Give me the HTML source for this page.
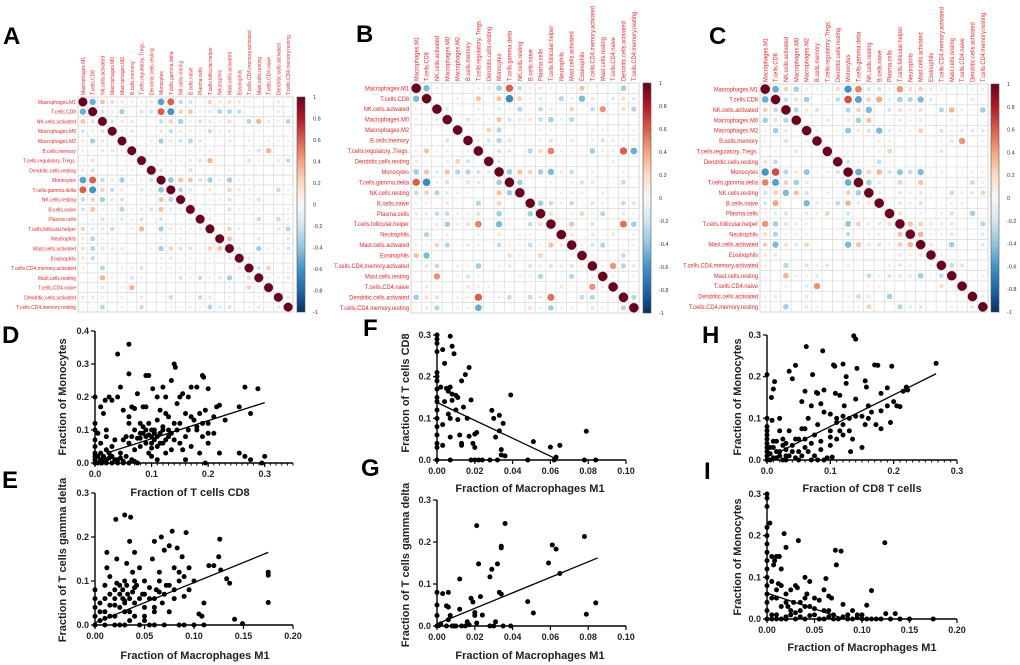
<!DOCTYPE html>
<html><head><meta charset="utf-8">
<style>
html,body{margin:0;padding:0;background:#fff;}
svg{display:block;font-family:"Liberation Sans",Arial,sans-serif;}
</style></head>
<body>
<svg id="fig" width="1020" height="665" viewBox="0 0 1020 665">
<defs>
<linearGradient id="rdbu" x1="0" y1="1" x2="0" y2="0">
<stop offset="0" stop-color="#053061"/><stop offset="0.1" stop-color="#2166AC"/><stop offset="0.2" stop-color="#4393C3"/><stop offset="0.3" stop-color="#92C5DE"/><stop offset="0.4" stop-color="#D1E5F0"/><stop offset="0.5" stop-color="#F7F7F7"/><stop offset="0.6" stop-color="#FDDBC7"/><stop offset="0.7" stop-color="#F4A582"/><stop offset="0.8" stop-color="#D6604D"/><stop offset="0.9" stop-color="#B2182B"/><stop offset="1" stop-color="#67001F"/>
</linearGradient>
</defs>
</svg>
<script>
// ---------- correlation data ----------
const cellTypes=["Macrophages.M1","T.cells.CD8","NK.cells.activated","Macrophages.M0","Macrophages.M2","B.cells.memory","T.cells.regulatory..Tregs.","Dendritic.cells.resting","Monocytes","T.cells.gamma.delta","NK.cells.resting","B.cells.naive","Plasma.cells","T.cells.follicular.helper","Neutrophils","Mast.cells.activated","Eosinophils","T.cells.CD4.memory.activated","Mast.cells.resting","T.cells.CD4.naive","Dendritic.cells.activated","T.cells.CD4.memory.resting"];
const colorbarTicks=[1,0.8,0.6,0.4,0.2,0,-0.2,-0.4,-0.6,-0.8,-1];
const corrA=[[],[-0.5],[0.3,-0.2],[-0.2,-0.1,-0.2],[0.15,-0.35,0.15,-0.1],[-0.1,0.05,-0.15,-0.15,-0.1],[-0.1,0.2,-0.05,-0.05,-0.05,0.1],[0.15,-0.2,0,-0.05,0.1,-0.1,0],[-0.55,0.6,-0.25,0.15,-0.35,-0.1,-0.1,-0.2],[0.6,-0.6,0.25,-0.25,0.15,0,-0.15,0.1,-0.4],[-0.25,0.25,-0.35,0.15,-0.2,-0.05,0.1,-0.05,0.3,-0.3],[-0.2,0.3,-0.1,-0.1,-0.3,-0.1,-0.15,-0.2,0.3,-0.15,0.1],[0.05,-0.1,-0.2,-0.1,-0.15,-0.1,0.2,0,-0.2,0,0,-0.1],[0.25,-0.15,0.15,-0.25,-0.05,0.1,0.35,0,-0.35,0.15,0.1,-0.1,0.15],[0.15,-0.3,0.1,-0.1,0,0.05,-0.05,0,-0.1,0,-0.1,-0.05,-0.05,0],[0.2,-0.3,0.2,-0.15,0.15,-0.05,0,0.1,-0.35,0.25,-0.2,-0.2,-0.1,0.25,0.3],[0.15,-0.25,0,-0.05,0,0,-0.05,0,-0.1,0.15,-0.05,0.1,-0.05,0.1,-0.05,0.15],[0.1,-0.05,-0.3,0,-0.1,0.1,-0.2,0,-0.1,0.1,-0.1,0.1,-0.05,0.05,0,-0.05,0.15],[0,-0.05,0.35,-0.1,-0.05,-0.2,-0.1,0,0.05,-0.05,-0.2,-0.1,-0.25,-0.1,-0.15,-0.35,0.05,-0.2],[-0.05,-0.05,-0.15,0,-0.1,0.35,-0.05,0,-0.05,0,-0.05,0,-0.05,0,-0.05,-0.1,0,0.25,-0.1],[-0.15,0.15,0.1,-0.05,-0.1,0,0.15,0,0,-0.25,0,-0.05,-0.25,0.15,0,-0.1,0,0.05,-0.1,-0.05],[-0.05,-0.05,-0.3,0,-0.1,-0.05,-0.25,0,0.05,-0.1,-0.05,-0.1,-0.1,-0.3,-0.15,-0.2,-0.05,0.1,-0.15,-0.05,-0.15]];
const corrB=[[],[-0.45],[0.1,-0.05],[-0.1,-0.05,-0.15],[0,-0.1,0,-0.05],[0.05,-0.05,0,-0.2,-0.05],[-0.1,0.3,0.1,-0.1,-0.05,0.1],[0.15,-0.05,0,0.1,0.25,-0.2,0],[-0.35,0.3,-0.15,0.3,-0.3,-0.3,-0.2,-0.15],[0.6,-0.65,0.1,-0.2,0,0.2,-0.15,0,-0.35],[-0.25,0.25,-0.3,0.15,-0.1,-0.05,0,0,0.3,-0.35],[-0.1,0.1,-0.05,0.15,-0.05,-0.05,-0.3,-0.05,0.25,0,0],[0.15,-0.15,-0.25,-0.25,-0.1,-0.1,0.2,0,-0.35,0,-0.05,-0.35],[0.1,-0.05,0.15,-0.35,-0.1,0.2,0.5,0,-0.45,0.1,0.05,-0.25,0.2],[0.05,-0.3,-0.05,-0.1,0,-0.05,-0.1,0,0.15,0,-0.1,-0.1,-0.05,0],[0.1,-0.1,0.25,-0.3,-0.05,0.15,-0.1,0,-0.25,0.1,-0.1,-0.25,-0.1,0.3,0.15],[0.3,-0.45,-0.05,-0.05,0,0,-0.05,0,-0.05,0.2,-0.1,-0.05,0.25,0,0,-0.1],[0.05,-0.15,-0.25,0,-0.1,0.1,-0.35,0,0.1,0.15,0,0.2,-0.1,-0.2,0.15,-0.2,0.1],[0,-0.05,0.45,0,0.1,-0.2,-0.1,-0.05,0,0,-0.1,-0.1,-0.3,0,-0.05,-0.3,0.05,-0.1],[-0.05,-0.15,-0.05,-0.05,-0.05,0.15,-0.1,-0.1,-0.05,-0.05,-0.05,-0.05,0,0.05,0.15,-0.05,-0.05,0.45,-0.1],[-0.35,0.2,0.2,-0.05,-0.1,0.1,0.6,-0.05,-0.1,-0.25,-0.05,-0.25,-0.15,0.55,0,-0.05,-0.25,-0.3,0,-0.05],[-0.05,-0.15,-0.3,0.05,-0.1,-0.1,-0.5,-0.05,0,0,-0.05,0.2,-0.1,-0.35,-0.1,-0.1,-0.05,0.15,-0.1,-0.05,-0.3]];
const corrC=[[],[-0.5],[0.25,-0.25],[-0.35,0.2,-0.3],[0.1,-0.35,0.15,-0.05],[-0.1,0.05,-0.2,-0.05,-0.1],[0.05,-0.1,-0.05,0.15,-0.05,-0.05],[0.2,-0.25,0,-0.05,-0.05,-0.05,0.05],[-0.6,0.65,-0.3,0.15,-0.4,-0.05,-0.1,-0.2],[0.5,-0.55,0.25,-0.35,0.15,-0.05,-0.05,0.1,-0.5],[-0.2,0.25,-0.45,0.3,-0.2,0,0.1,-0.05,0.25,-0.35],[-0.2,0.4,0,0,-0.45,0.15,-0.1,-0.25,0.35,-0.15,0.15],[0.1,-0.15,-0.2,-0.05,-0.15,-0.1,0.25,-0.05,-0.2,0,0,-0.05],[0.45,-0.35,0.2,-0.15,-0.1,0,0,-0.05,-0.4,0.25,-0.15,-0.15,0.2],[0.2,-0.3,0.1,-0.1,0.1,-0.05,0,0,-0.25,-0.05,-0.1,-0.1,-0.05,0.3],[0.25,-0.45,0.2,-0.15,0.25,-0.05,0,0.05,-0.45,0.3,-0.15,-0.2,-0.1,0.25,0.35],[0.15,-0.15,0,0,0,0,0,0,-0.05,0,-0.05,0,0,0.15,0.1,0.15],[0.1,0,-0.3,0,-0.2,0.1,-0.15,0,-0.1,0.05,-0.05,0.05,-0.1,0.15,-0.1,-0.05,0.1],[-0.05,0,0.35,-0.1,-0.1,-0.15,0,0,0,-0.05,-0.25,-0.1,-0.2,-0.15,-0.15,-0.35,-0.05,-0.25],[-0.05,0,-0.1,0,-0.15,0.45,0,0,-0.05,0,0.1,0.1,0,0,0,-0.05,0,0.2,-0.05],[-0.1,0.15,0.05,0,-0.15,0,-0.05,-0.05,0.1,-0.25,0.15,0,-0.35,0.05,0,-0.05,0,0,0.05,0],[-0.1,-0.05,-0.35,0,-0.15,0.1,0.05,0,0.1,-0.1,0.25,0,0,-0.3,-0.15,-0.15,0,-0.05,-0.1,-0.05,-0.15]];

// ---------- scatter data ----------
const dX=[0,0,0,0,0,0,0,0,0,0.005,0.005,0.01,0.01,0.012,0.015,0.02,0.02,0.025,0.03,0.03,0.035,0.04,0.045,0.05,0.055,0.06,0.065,0.07,0.075,0.01,0.005,0.02,0.015,0.01,0.018,0.02,0.03,0.035,0.04,0.04,0.045,0.05,0.055,0.06,0.06,0.06,0.065,0.07,0.07,0.075,0.08,0.08,0.085,0.085,0.09,0.09,0.09,0.095,0.095,0.1,0.1,0.1,0.102,0.105,0.105,0.11,0.11,0.11,0.115,0.115,0.12,0.12,0.12,0.125,0.125,0.13,0.13,0.135,0.135,0.14,0.142,0.14,0.145,0.145,0.15,0.15,0.155,0.16,0.16,0.165,0.17,0.17,0.175,0.18,0.18,0.185,0.185,0.19,0.192,0.19,0.195,0.195,0.2,0.2,0.2,0.21,0.21,0.215,0.22,0.22,0.23,0.255,0.255,0.265,0.265,0.275,0.275,0.288,0.295,0.3,0.05,0.025,0.08,0.095,0.125,0.165,0.09,0.11,0.135,0.155,0.06,0.08,0.085,0.09,0.095,0.1,0.1,0.105,0.11,0.115,0.12,0.125,0.13,0.14,0.15,0.16,0.17,0.18,0.19,0.2,0.06,0.065,0.07,0.075,0.04,0.05,0.02,0.03,0.045,0.015,0.025];
const dY=[0,0.01,0.02,0.03,0.05,0.07,0.1,0.12,0.2,0,0.02,0.01,0.03,0,0.02,0.01,0,0.015,0,0.02,0.01,0,0.015,0.005,0.02,0,0.01,0.005,0,0.06,0.09,0.08,0.15,0.17,0.19,0.1,0.19,0.07,0.2,0.33,0.23,0.07,0.08,0.36,0.27,0.14,0.17,0.1,0.165,0.21,0.05,0.09,0.11,0.17,0.265,0.06,0.1,0.12,0.265,0.02,0.08,0.045,0.225,0.1,0.07,0.2,0.05,0.13,0.09,0.16,0.23,0.06,0.11,0.03,0.2,0.08,0.14,0.25,0.04,0.3,0.29,0.12,0.1,0.18,0.2,0.06,0.21,0.15,0.01,0.1,0.23,0.05,0.13,0.23,0.11,0.03,0.15,0.265,0.26,0.08,0.16,0,0.225,0.06,0.12,0.14,0.09,0.17,0.175,0.03,0.13,0.17,0.03,0.02,0.23,0.15,0.01,0.225,0,0.02,0.16,0.2,0.12,0.03,0.15,0.2,0.17,0.01,0.09,0.04,0.12,0.075,0.09,0.08,0.085,0.1,0.06,0.09,0.08,0.06,0.1,0.07,0.1,0.07,0.12,0.08,0.14,0.1,0.12,0.09,0.06,0.08,0.04,0.075,0.01,0,0.04,0.05,0.03,0.005,0.03];
const dLineX=[0.02,0.3], dLineY=[0.03,0.183];
const eX=[0,0,0,0,0,0.005,0.005,0.01,0.01,0.012,0.012,0.015,0.015,0.02,0.02,0.021,0.022,0.025,0.025,0.028,0.03,0.03,0.03,0.032,0.033,0.035,0.035,0.036,0.038,0.04,0.04,0.042,0.045,0.045,0.048,0.05,0.05,0.055,0.058,0.06,0.06,0.062,0.065,0.067,0.068,0.07,0.072,0.075,0.075,0.078,0.08,0.08,0.083,0.085,0.085,0.088,0.09,0.092,0.095,0.1,0.105,0.108,0.11,0.11,0.115,0.12,0.125,0.126,0.127,0.133,0.136,0.141,0.149,0.175,0.175,0.175,0.01,0.02,0.03,0.04,0.05,0.06,0.015,0.025,0.035,0.07,0.09,0.1,0.055,0.01,0.015,0.02,0.022,0.025,0.028,0.03,0.032,0.035,0.038,0.04,0.045,0.05,0.055,0.06,0.065,0.07,0.075,0.08,0.09,0.005,0.01,0.02,0.03,0.04,0.05,0.06,0.065,0.085,0.095];
const eY=[0,0.02,0.04,0.06,0.08,0.01,0.05,0,0.03,0.165,0.13,0.07,0.11,0.08,0,0.24,0.15,0.09,0.04,0.06,0.25,0,0.1,0.14,0.07,0.19,0.03,0.245,0.12,0.165,0.05,0.09,0,0.13,0.07,0.04,0.1,0.06,0.15,0.19,0,0.08,0.12,0.2,0.05,0.17,0.09,0.18,0.03,0.213,0.13,0.06,0.175,0,0.1,0.155,0.065,0.21,0.13,0.1,0.025,0.02,0,0.05,0.135,0.135,0.155,0.195,0.125,0.105,0.095,0.013,0.003,0.12,0.113,0.051,0.09,0.045,0.055,0.085,0.02,0.04,0.02,0,0.01,0,0,0,0,0.06,0.045,0.06,0.095,0.07,0.08,0.05,0.09,0.06,0.075,0.1,0.06,0.07,0.085,0.06,0.075,0.07,0.09,0.08,0.11,0.03,0.015,0.02,0.03,0.02,0.01,0.03,0.1,0.12,0.08];
const eLineX=[0,0.175], eLineY=[0.005,0.165];
const fX=[0,0,0,0,0,0,0,0,0,0,0,0,0,0,0,0,0,0.002,0.003,0.003,0.003,0.004,0.004,0.005,0.006,0.006,0.007,0.007,0.007,0.007,0.007,0.008,0.008,0.008,0.009,0.01,0.01,0.011,0.011,0.012,0.013,0.013,0.013,0.014,0.015,0.016,0.017,0.017,0.018,0.018,0.019,0.02,0.02,0.021,0.02,0.022,0.024,0.028,0.029,0.03,0.031,0.032,0.033,0.033,0.034,0.034,0.035,0.036,0.039,0.048,0.051,0.06,0.063,0.065,0.062,0.078,0.079,0.084];
const fY=[0.03,0.04,0.06,0.08,0.1,0.12,0.14,0.15,0.17,0.19,0.2,0.21,0.26,0.28,0.29,0.3,0,0.175,0.085,0.035,0.265,0.232,0.14,0.172,0.11,0.165,0.1,0.055,0.175,0.297,0,0.273,0.158,0.143,0.255,0.155,0.12,0.097,0.15,0.06,0.035,0.04,0.19,0.127,0.205,0.1,0.222,0.057,0,0.144,0.04,0.03,0.062,0.066,0,0,0,0,0.119,0.1,0.055,0,0.107,0.07,0.025,0.012,0.088,0.01,0.156,0,0.044,0.031,0.007,0.035,0,0,0.069,0];
const fLineX=[0,0.062], fLineY=[0.138,0.005];
const gX=[0,0,0,0,0.002,0.003,0.005,0.006,0.006,0.007,0.006,0.005,0.008,0.01,0.012,0.012,0.013,0.015,0.016,0.017,0.018,0.019,0.02,0.02,0.021,0.021,0.022,0.023,0.024,0.028,0.029,0.028,0.031,0.032,0.033,0.034,0.034,0.034,0.036,0.035,0.039,0.03,0.048,0.051,0.059,0.061,0.063,0.065,0.078,0.079,0.084,0.001,0.009];
const gY=[0,0.025,0.05,0.08,0.005,0.077,0.048,0.045,0.08,0.025,0.015,0,0,0,0.112,0.04,0,0,0.01,0.003,0.066,0.057,0.025,0.032,0.239,0.007,0.148,0.07,0.026,0.117,0.135,0,0.01,0.148,0.08,0.076,0.186,0.19,0.244,0,0,0,0.058,0.031,0.15,0.193,0.183,0.125,0.213,0.028,0.055,0.001,0];
const gLineX=[0,0.085], gLineY=[0.005,0.162];
const hX=[0,0,0,0,0,0,0,0,0,0,0,0.005,0.005,0.007,0.008,0.01,0.012,0.01,0.015,0.015,0.02,0.02,0.02,0.025,0.025,0.03,0.03,0.035,0.035,0.04,0.04,0.045,0.045,0.05,0.05,0.055,0.055,0.06,0.06,0.062,0.065,0.07,0.07,0.072,0.075,0.078,0.08,0.08,0.085,0.088,0.09,0.09,0.09,0.095,0.1,0.1,0.1,0.103,0.105,0.107,0.108,0.11,0.11,0.115,0.115,0.12,0.12,0.122,0.125,0.125,0.13,0.132,0.135,0.137,0.14,0.14,0.142,0.15,0.155,0.155,0.157,0.16,0.165,0.17,0.172,0.175,0.18,0.18,0.19,0.19,0.195,0.197,0.2,0.205,0.21,0.215,0.22,0.222,0.267,0.15,0.06,0.12,0.085,0.045,0.005,0.01,0.015,0.02,0.025,0.03,0.035,0.04,0.05,0.055,0.06,0.065,0.07,0.075,0.08,0.085,0.1,0.11,0.12,0.13,0.14,0.16,0.18,0.01,0.03];
const hY=[0,0.01,0.02,0.03,0.04,0.05,0.06,0.07,0.08,0.1,0.205,0,0.015,0.15,0.095,0.17,0.188,0.03,0.045,0.005,0.02,0.1,0.07,0.035,0,0.01,0.04,0.07,0.213,0.195,0.02,0.05,0.227,0,0.05,0.14,0.075,0.165,0.03,0.272,0.1,0,0.13,0.205,0.06,0.162,0.16,0.085,0.135,0.262,0.168,0.115,0,0.005,0.07,0.035,0.11,0.007,0.228,0.225,0.16,0.05,0.09,0.155,0.07,0.105,0.23,0.13,0.184,0.2,0.1,0.02,0.05,0.298,0.29,0.146,0.22,0.105,0.19,0.085,0.175,0.1,0.115,0.228,0.085,0.227,0.118,0.075,0.173,0.13,0.09,0.225,0.14,0.13,0.128,0.165,0.175,0.168,0.232,0.03,0.075,0.06,0.045,0.005,0.03,0.045,0.02,0.01,0.05,0.025,0.01,0.035,0.02,0.01,0.05,0.02,0.04,0.01,0,0.025,0.055,0.1,0.085,0.07,0.105,0.13,0.16,0.005,0];
const hLineX=[0.02,0.267], hLineY=[0.02,0.207];
const iX=[0,0,0,0,0,0,0,0,0,0,0,0,0,0,0,0.003,0.005,0.005,0.007,0.008,0.01,0.005,0.01,0.012,0.013,0.015,0.018,0.02,0.02,0.022,0.025,0.028,0.03,0.032,0.033,0.035,0.04,0.04,0.042,0.045,0.045,0.05,0.05,0.055,0.06,0.062,0.065,0.068,0.07,0.072,0.073,0.078,0.08,0.085,0.09,0.095,0.1,0.105,0.11,0.11,0.115,0.12,0.124,0.125,0.13,0.135,0.14,0.15,0.175,0.015,0.02,0.025,0.03,0.04,0.045,0.055,0.06,0.065,0.075,0.085,0.09,0.1,0.035,0.015,0.01,0.005,0.01,0.02,0.025,0.03,0.035,0.04,0.05,0.06,0.065,0.07,0.08,0.095,0.105,0.02,0.01,0.005,0.015];
const iY=[0,0.02,0.04,0.06,0.08,0.1,0.12,0.14,0.16,0.18,0.2,0.22,0.27,0.29,0.3,0.23,0.15,0.09,0.13,0.14,0.15,0.01,0,0.085,0.15,0.08,0.205,0.172,0.06,0.03,0.07,0.04,0.08,0.075,0.188,0.02,0.1,0.05,0.06,0.09,0.03,0.01,0.05,0.045,0.07,0.097,0.055,0.05,0,0.165,0.13,0.163,0.035,0.01,0.02,0.003,0.01,0.033,0.068,0,0,0,0.183,0.013,0,0.013,0,0,0,0,0,0.01,0,0,0.008,0,0.02,0.005,0,0,0,0,0.04,0.03,0.05,0,0.01,0.005,0.02,0.015,0.005,0.03,0.025,0,0.02,0.01,0.005,0.01,0,0.04,0.07,0.05,0.12];
const iLineX=[0,0.082], iLineY=[0.062,0];

// ---------- helpers ----------
const NS="http://www.w3.org/2000/svg";
const svg=document.getElementById('fig');
function mk(tag,attrs,parent){const e=document.createElementNS(NS,tag);for(const k in attrs)e.setAttribute(k,attrs[k]);(parent||svg).appendChild(e);return e;}
const stops=[[-1,[5,48,97]],[-0.8,[33,102,172]],[-0.6,[67,147,195]],[-0.4,[146,197,222]],[-0.2,[209,229,240]],[0,[247,247,247]],[0.2,[253,219,199]],[0.4,[244,165,130]],[0.6,[214,96,77]],[0.8,[178,24,43]],[1,[103,0,31]]];
function rdbu(v){for(let i=0;i<stops.length-1;i++){const a=stops[i],b=stops[i+1];if(v<=b[0]){const t=(v-a[0])/(b[0]-a[0]);const c=a[1].map((x,j)=>Math.round(x+(b[1][j]-x)*t));return `rgb(${c[0]},${c[1]},${c[2]})`;}}return 'rgb(103,0,31)';}
function corrVal(m,i,j){if(i===j)return 1;return i>j?m[i][j]:m[j][i];}

function panelLetter(t,x,y){
  const e=mk('text',{x:x,y:y,'font-size':24,'font-weight':'bold',fill:'#000'});
  e.textContent=t;
  
  
}

function corrPanel(id,m,x0,y0,x1,y1,cbx,labelFs,squeeze){
  const g=mk('g',{});
  
  
  const n=cellTypes.length,cw=(x1-x0)/n,ch=(y1-y0)/n;
  mk('rect',{x:x0,y:y0,width:x1-x0,height:y1-y0,fill:'#fff',stroke:'#ccc','stroke-width':0.8},g);
  for(let k=1;k<n;k++){
    mk('line',{x1:x0+k*cw,y1:y0,x2:x0+k*cw,y2:y1,stroke:'#ddd','stroke-width':0.8},g);
    mk('line',{x1:x0,y1:y0+k*ch,x2:x1,y2:y0+k*ch,stroke:'#ddd','stroke-width':0.8},g);
  }
  for(let i=0;i<n;i++){
    const ry=y0+(i+0.5)*ch+labelFs*0.35;
    const rl=mk('text',{x:0,y:0,'font-size':labelFs,'text-anchor':'end',fill:'#e8262a',transform:`translate(${x0-2} ${ry}) scale(${squeeze} 1)`},g);
    rl.textContent=cellTypes[i];
    
    
    const cx=x0+(i+0.5)*cw+labelFs*0.35;
    const cl=mk('text',{x:0,y:0,'font-size':labelFs,fill:'#e8262a',transform:`translate(${cx} ${y0-2}) rotate(-90) scale(${squeeze} 1)`},g);
    cl.textContent=cellTypes[i];
    
    
    for(let j=0;j<n;j++){
      const v=corrVal(m,i,j);
      const r=Math.min(cw,ch)/2*0.92*Math.sqrt(Math.abs(v));
      if(r<0.3)continue;
      const c=mk('circle',{cx:x0+(j+0.5)*cw,cy:y0+(i+0.5)*ch,r:r,fill:rdbu(v)},g);
      
      
    }
  }
  const cb=mk('rect',{x:cbx,y:y0,width:8,height:y1-y0,fill:'url(#rdbu)',stroke:'#555','stroke-width':0.6},g);
  
  
  colorbarTicks.forEach(t=>{
    const yy=y0+(1-t)/2*(y1-y0);
    const tl=mk('text',{x:cbx+16,y:yy+2,'font-size':5.5,fill:'#333'},g);
    tl.textContent=String(t);
    
    
  });
}

function scatter(id,xs,ys,lx,ly,o){
  const g=mk('g',{});
  
  
  const sx=v=>o.px0+(v-0)/(o.xmax)*(o.px1-o.px0);
  const sy=v=>o.py0-(v)/(o.ymax)*(o.py0-o.py1);
  mk('line',{x1:o.px0,y1:o.py0,x2:o.px1,y2:o.py0,stroke:'#000','stroke-width':1.4},g);
  mk('line',{x1:o.px0,y1:o.py0,x2:o.px0,y2:o.py1,stroke:'#000','stroke-width':1.4},g);
  o.xticks.forEach(t=>{
    mk('line',{x1:sx(t),y1:o.py0,x2:sx(t),y2:o.py0+4,stroke:'#000','stroke-width':1.2},g);
    const tl=mk('text',{x:sx(t),y:o.py0+14,'font-size':9,'font-weight':'bold','text-anchor':'middle',fill:'#222'},g);
    tl.textContent=t.toFixed(o.xdec);
    
    
  });
  if(o.xminor){for(let t=0;t<=o.xmax+1e-9;t+=o.xminor){mk('line',{x1:sx(t),y1:o.py0,x2:sx(t),y2:o.py0+2.5,stroke:'#000','stroke-width':1},g);}}
  o.yticks.forEach(t=>{
    mk('line',{x1:o.px0-4,y1:sy(t),x2:o.px0,y2:sy(t),stroke:'#000','stroke-width':1.2},g);
    const tl=mk('text',{x:o.px0-6,y:sy(t)+3,'font-size':9,'font-weight':'bold','text-anchor':'end',fill:'#222'},g);
    tl.textContent=t.toFixed(1);
    
    
  });
  xs.forEach((v,k)=>{
    const c=mk('circle',{cx:sx(v),cy:sy(ys[k]),r:2.5,fill:'#000'},g);
    
    
  });
  const ln=mk('line',{x1:sx(lx[0]),y1:sy(ly[0]),x2:sx(lx[1]),y2:sy(ly[1]),stroke:'#000','stroke-width':1.3},g);
  
  
  const xt=mk('text',{x:o.xtx,y:o.xty,'font-size':11,'font-weight':'bold','text-anchor':'middle',fill:'#222'},g);
  xt.textContent=o.xtitle;
  
  
  const yt=mk('text',{x:o.ytx,y:o.yty,'font-size':11,'font-weight':'bold','text-anchor':'middle',fill:'#222',transform:`rotate(-90 ${o.ytx} ${o.yty})`},g);
  yt.textContent=o.ytitle;
  
  
}

// ---------- build ----------
panelLetter('A',3,44);
panelLetter('B',356,42);
panelLetter('C',709,44);
corrPanel('a',corrA,78,97,293,312,297,5.8,0.85);
corrPanel('b',corrB,411,83,639,313,643,6,0.95);
corrPanel('c',corrC,760,84,988,312,991,6,0.95);

panelLetter('D',2,343);
panelLetter('E',2,488);
panelLetter('F',363,336);
panelLetter('G',361,476);
panelLetter('H',702,343);
panelLetter('I',704,479);

scatter('d',dX,dY,dLineX,dLineY,{px0:95,px1:293,py0:463,py1:331,xmax:0.35,ymax:0.4,xticks:[0,0.1,0.2,0.3],xdec:1,xminor:0.01,yticks:[0,0.1,0.2,0.3,0.4],xtitle:'Fraction of T cells CD8',xtx:190,xty:496,ytitle:'Fraction of Monocytes',ytx:66,yty:397});
scatter('e',eX,eY,eLineX,eLineY,{px0:95,px1:293,py0:625,py1:493,xmax:0.2,ymax:0.3,xticks:[0,0.05,0.1,0.15,0.2],xdec:2,yticks:[0,0.1,0.2,0.3],xtitle:'Fraction of Macrophages M1',xtx:195,xty:659,ytitle:'Fraction of T cells gamma delta',ytx:66,yty:560});
scatter('f',fX,fY,fLineX,fLineY,{px0:437,px1:626,py0:460,py1:335,xmax:0.1,ymax:0.3,xticks:[0,0.02,0.04,0.06,0.08,0.1],xdec:2,yticks:[0,0.1,0.2,0.3],xtitle:'Fraction of Macrophages M1',xtx:530,xty:492,ytitle:'Fraction of T cells CD8',ytx:409,yty:393});
scatter('g',gX,gY,gLineX,gLineY,{px0:437,px1:626,py0:626,py1:500,xmax:0.1,ymax:0.3,xticks:[0,0.02,0.04,0.06,0.08,0.1],xdec:2,yticks:[0,0.1,0.2,0.3],xtitle:'Fraction of Macrophages M1',xtx:530,xty:659,ytitle:'Fraction of T cells gamma delta',ytx:409,yty:565});
scatter('h',hX,hY,hLineX,hLineY,{px0:767,px1:957,py0:460,py1:335,xmax:0.3,ymax:0.3,xticks:[0,0.1,0.2,0.3],xdec:1,xminor:0.01,yticks:[0,0.1,0.2,0.3],xtitle:'Fraction of CD8 T cells',xtx:862,xty:492,ytitle:'Fraction of Monocytes',ytx:741,yty:397});
scatter('i',iX,iY,iLineX,iLineY,{px0:767,px1:957,py0:619,py1:494,xmax:0.2,ymax:0.3,xticks:[0,0.05,0.1,0.15,0.2],xdec:2,yticks:[0,0.1,0.2,0.3],xtitle:'Fraction of Macrophages M1',xtx:862,xty:651,ytitle:'Fraction of Monocytes',ytx:741,yty:557});
</script>
</body></html>
